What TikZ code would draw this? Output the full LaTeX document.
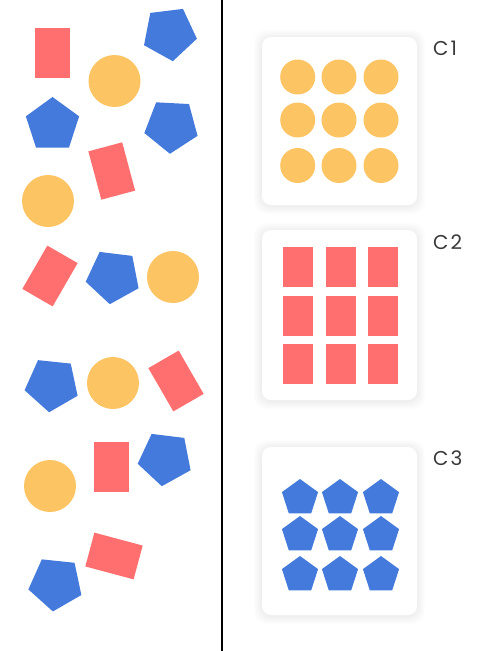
\documentclass[tikz,border=0pt]{standalone}
\usepackage{fontspec}
\setmainfont{Poppins}
\usetikzlibrary{shapes.geometric}
\definecolor{cred}{HTML}{FF6F6F}
\definecolor{cyellow}{HTML}{FCC462}
\definecolor{cblue}{HTML}{437ADB}
\definecolor{cgrey}{HTML}{3A3A3A}
\tikzset{
  every picture/.style={x=1pt, y=-1pt},
  disc/.style={circle, fill=cyellow, minimum size=#1, inner sep=0pt},
  disc/.default=52pt,
  brick/.style={rectangle, fill=cred, inner sep=0pt},
  penta/.style={regular polygon, regular polygon sides=5, fill=cblue, minimum size=#1, inner sep=0pt},
  penta/.default=56pt,
  card/.style={fill=white, rounded corners=9pt, minimum width=155pt, inner sep=0pt},
  tag/.style={font=\fontsize{20}{22}\selectfont, text=cgrey, anchor=west, inner sep=0pt},
}

\begin{document}
\begin{tikzpicture}
  \useasboundingbox (0,0) rectangle (477,651);
  % ---- divider
  \coordinate (divtop) at (222,0);
  \coordinate (divbot) at (222,651);
  \draw[line width=2pt] (divtop) -- (divbot);
  % ---- mixed shapes on the left
  \foreach \i/\xx/\yy in {1/114.5/81, 2/48/201, 3/173/277, 4/113/383, 5/50/486}
    \node[disc] (d\i) at (\xx,\yy) {};
  \foreach \i/\xx/\yy/\rr in {1/52.5/53/0, 2/111.75/171/15, 3/50/276/-30, 4/176/381/30, 5/111.5/467/0, 6/114/556/75}
    \node[brick, minimum width=35pt, minimum height=50pt, rotate=\rr] (b\i) at (\xx,\yy) {};
  \foreach \i/\xx/\yy/\rr in {1/169.4/33.4/43, 2/52.5/125/0, 3/171.4/125.8/33, 4/113.2/276.4/29, 5/52/384.4/30, 6/165.2/458.4/29, 7/55.8/583.6/30}
    \node[penta, rotate=\rr] (p\i) at (\xx,\yy) {};
  % ---- cards with soft shadow
  \foreach \n/\top/\bot in {1/37/205, 2/230/400, 3/447/615} {
    \foreach \s in {1,...,8}
      \fill[black, opacity=0.006, rounded corners=12pt] (262-\s,\top-\s+1) rectangle (417+\s,\bot+\s+1);
    \node[card, minimum height={\bot-\top}] (card\n) at (339.5,{(\top+\bot)/2}) {};
  }
  % ---- sorted groups
  \foreach \xx [count=\c] in {297.7, 339, 381}
    \foreach \yy [count=\r] in {77, 120, 165.5}
      \node[disc=35pt] (g\r\c) at (\xx,\yy) {};
  \foreach \xx [count=\c] in {298, 341, 382.5}
    \foreach \yy [count=\r] in {267, 315.5, 363.5}
      \node[brick, minimum width=30pt, minimum height=40pt] (h\r\c) at (\xx,\yy) {};
  \foreach \xx [count=\c] in {300, 340, 381}
    \foreach \yy [count=\r] in {498, 535, 575}
      \node[penta=38pt] (k\r\c) at (\xx,\yy) {};
  % ---- labels
  \node[tag] (lab1) at (433,48) {C\kern2pt1};
  \node[tag] (lab2) at (433,242) {C\kern2pt2};
  \node[tag] (lab3) at (433,458) {C\kern2pt3};
\end{tikzpicture}
\end{document}
